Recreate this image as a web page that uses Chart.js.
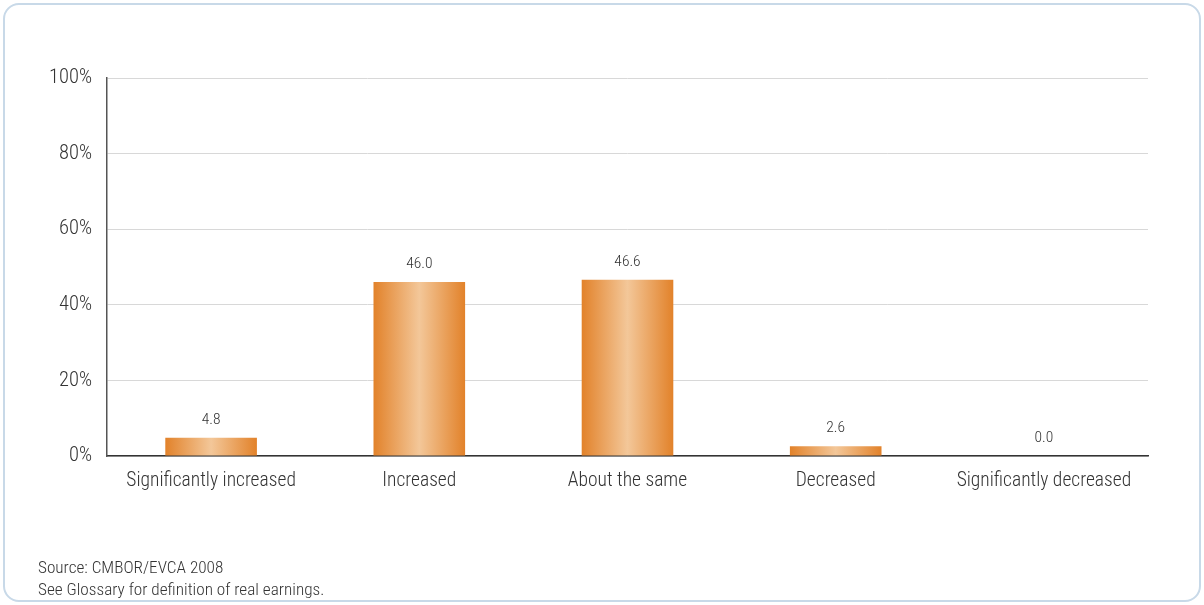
<!DOCTYPE html>
<html>
<head>
<meta charset="utf-8">
<script src="https://cdn.jsdelivr.net/npm/chart.js@4.4.1/dist/chart.umd.min.js"></script>
<style>
  html, body { margin: 0; padding: 0; background: #fff; }
  body { width: 1204px; height: 605px; position: relative; overflow: hidden;
         font-family: "Roboto Condensed", "Liberation Sans", sans-serif; font-weight: 300; }
  .frame { position: absolute; left: 3px; top: 3px; width: 1194px; height: 595px;
           border: 2px solid #c8d9e8; border-radius: 16px; }
  #wrap { position: absolute; left: 0; top: 0; width: 1204px; height: 605px; }
  .note { position: absolute; left: 38px; font-size: 17.2px; color: #333; line-height: 18px; }
</style>
</head>
<body>
<div class="frame"></div>
<div id="wrap"><canvas id="chart"></canvas></div>
<div class="note" style="top:558px">Source: CMBOR/EVCA 2008</div>
<div class="note" style="top:580px">See Glossary for definition of real earnings.</div>
<script>
const categories = ['Significantly increased', 'Increased', 'About the same', 'Decreased', 'Significantly decreased'];
const shares = [4.8, 46.0, 46.6, 2.6, 0.0];
const yTicks = [0, 20, 40, 60, 80, 100];

const FONT = '"Roboto Condensed", "Liberation Sans", sans-serif';
const barPct = 0.88, catPct = 0.5;

function barGradient(ctx) {
  const chart = ctx.chart;
  if (!chart.chartArea || ctx.dataIndex === undefined) return '#e2832b';
  const xScale = chart.scales.x;
  const cx = xScale.getPixelForValue(ctx.dataIndex);
  const w = (chart.chartArea.width / categories.length) * barPct * catPct;
  const g = chart.ctx.createLinearGradient(cx - w / 2, 0, cx + w / 2, 0);
  g.addColorStop(0, '#e2822a');
  g.addColorStop(0.5, '#f3c799');
  g.addColorStop(1, '#e2822a');
  return g;
}

const valueLabels = {
  id: 'valueLabels',
  afterDatasetsDraw(chart) {
    const c = chart.ctx;
    const meta = chart.getDatasetMeta(0);
    c.save();
    c.font = '300 15.5px ' + FONT;
    c.fillStyle = '#333';
    c.textAlign = 'center';
    c.textBaseline = 'bottom';
    meta.data.forEach((bar, i) => {
      c.fillText(shares[i].toFixed(1), bar.x, bar.y - 10);
    });
    c.restore();
  }
};

new Chart(document.getElementById('chart'), {
  type: 'bar',
  data: {
    labels: categories,
    datasets: [{
      data: shares,
      backgroundColor: barGradient,
      borderWidth: 0,
      barPercentage: barPct,
      categoryPercentage: catPct
    }]
  },
  options: {
    responsive: true,
    maintainAspectRatio: false,
    animation: false,
    layout: { padding: { left: 0, top: 78, right: 56, bottom: 109 } },
    plugins: { legend: { display: false }, tooltip: { enabled: false } },
    scales: {
      x: {
        grid: { display: false, drawTicks: false },
        border: { color: '#333', width: 1.5 },
        ticks: { color: '#333', font: { family: FONT, size: 19.5, weight: 300 }, padding: 13, maxRotation: 0 },
        afterFit(scale) { scale.height = 40; }
      },
      y: {
        min: 0, max: 100,
        afterBuildTicks(scale) { scale.ticks = yTicks.map(v => ({ value: v })); },
        grid: { color: '#d8d8d8', drawTicks: false },
        border: { color: '#555', width: 1.5 },
        ticks: { color: '#333', font: { family: FONT, size: 20.5, weight: 300 }, padding: 15,
                 callback: v => v + '%' },
        afterFit(scale) { scale.width = 107; }
      }
    }
  },
  plugins: [valueLabels]
});
</script>
</body>
</html>
